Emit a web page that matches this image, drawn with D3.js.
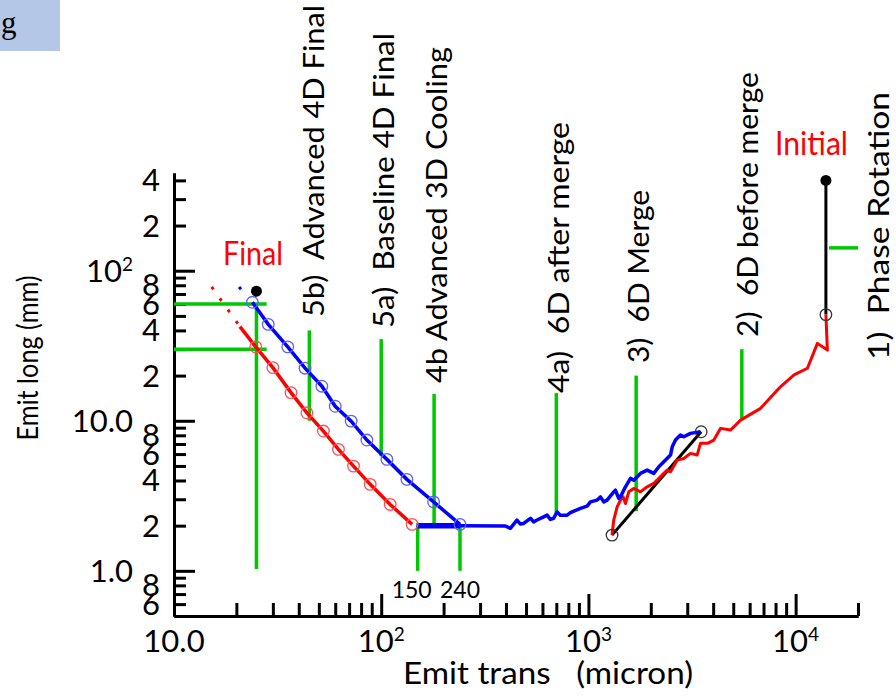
<!DOCTYPE html>
<html>
<head>
<meta charset="utf-8">
<script src="https://cdn.jsdelivr.net/npm/d3@7"></script>
<style>
body { margin: 0; background: #fff; }
text { font-family: Lato, "Open Sans", sans-serif; fill: #000; }
.pre { white-space: pre; }
</style>
</head>
<body>
<div id="chart-area"></div>
<script>
// Data
// ****
// Ticks
const xMajor = [10, 100, 1000, 10000]
const xMinor = [20, 30, 40, 50, 60, 70, 80, 90, 200, 300, 400, 500, 600, 700, 800, 900,
	2000, 3000, 4000, 5000, 6000, 7000, 8000, 9000, 20000]
const yMajor = [1, 10, 100]
const yMinor = [0.6, 0.7, 0.8, 0.9, 2, 3, 4, 5, 6, 7, 8, 9, 20, 30, 40, 50, 60, 70, 80, 90, 200, 300, 400]
const yMinorLabels = [0.6, 0.8, 2, 4, 6, 8, 20, 40, 60, 80, 200, 400]

// Cooling lattices (red / blue circles and lines)
const redCircles = [[24.8, 31.1], [30, 22.6], [36.7, 15.4], [43.8, 11.3], [52.6, 8.54], [62.2, 6.45],
	[73.5, 4.99], [88.5, 3.77], [110.5, 2.77], [141, 2.04]]
const blueCircles = [[23.9, 61.6], [28.5, 43.9], [35.4, 31.1], [42.9, 22.4], [51.7, 17.0], [60, 12.5],
	[71.6, 9.95], [85.3, 7.44], [106.5, 5.53], [133, 4.07], [179, 2.88], [240, 2.04]]
const redLead = [[20.8, 42.4], [24.8, 31.1]]
const redDotted = [[15.2, 78], [20.8, 42.4]]
const blueDotted = [[20.6, 78], [23.9, 61.6]]
const blueBar = [[148, 2.0], [240, 2.0]]

// Tracked emittance (wiggly)
const blueTail = [[240, 2.0], [397, 1.99], [420, 1.92], [452, 2.18], [470, 2.05], [487, 2.07], [525, 2.24],
	[544, 2.12], [565, 2.18], [608, 2.29], [632, 2.35], [655, 2.2], [680, 2.24], [706, 2.47], [732, 2.35],
	[789, 2.35], [819, 2.44], [915, 2.61], [985, 2.7], [1023, 2.88], [1102, 2.96], [1143, 3.11],
	[1186, 2.88], [1231, 2.96], [1325, 3.36], [1350, 3.45], [1400, 3.04], [1428, 3.11], [1509, 3.63],
	[1596, 4.13], [1655, 4.02], [1783, 4.46], [1921, 4.69], [2067, 4.46], [2187, 4.94], [2311, 5.33],
	[2490, 5.91], [2538, 6.71], [2632, 7.44], [2781, 8.03], [2885, 7.82], [3111, 8.24], [3475, 8.45]]
const redTail = [[1300, 1.73], [1325, 2.18], [1376, 2.67], [1428, 2.96], [1471, 3.11], [1509, 2.81],
	[1566, 3.36], [1655, 3.54], [1783, 3.36], [1921, 3.63], [2067, 3.83], [2187, 4.13], [2311, 4.46],
	[2399, 4.69], [2490, 4.57], [2683, 5.47], [2885, 5.61], [3111, 6.06], [3346, 5.91], [3475, 7.07],
	[3757, 7.07], [4030, 7.44], [4345, 8.9], [4853, 8.67], [5424, 10.1], [6776, 12.1], [8467, 16.9],
	[9830, 20.2], [11400, 22.4], [12740, 32.8], [14230, 29.6], [14000, 51]]

// Stage markers
const greenV = [[25, 1.03, 60], [45, 10, 40], [100, 5.8, 35], [180, 2.0, 15.1], [150, 1.0, 2.0],
	[240, 1.0, 2.0], [700, 2.42, 15.3], [1700, 2.5, 20], [5500, 10.4, 30]]
const greenH = [[60, 10, 28], [30, 10, 28], [142, 14500, 20000]]
const blackSegs = [[[14000, 51], [14000, 400]], [[1300, 1.73], [3500, 8.45]]]
const blackDots = [[25, 73], [14000, 400]]
const openDots = [[1300, 1.73], [3500, 8.45], [14000, 51]]

const stageNames = ["5b)  Advanced 4D Final", "5a)  Baseline 4D Final", "4b Advanced 3D Cooling",
	"4a)  6D after merge", "3)  6D Merge", "2)  6D before merge", "1)  Phase Rotation"]
const stageAt = [45, 100, 180, 700, 1700, 5500, 14000]

// Config
// ******
const width = 896, height = 699
const svg = d3.select("#chart-area").append("svg")
	.attr("width", width).attr("height", height)

const x = d3.scaleLog().domain([10, 20000]).range([174, 858])
const y = d3.scaleLog().domain([0.5, 448]).range([616, 173])
const line = d3.line().x(d => x(d[0])).y(d => y(d[1]))

// corner tag
svg.append("rect").attr("x", 0).attr("y", 0).attr("width", 60).attr("height", 51).attr("fill", "#b4c7e7")
svg.append("text").attr("x", 1).attr("y", 33).style("font-family", "'Liberation Serif', serif")
	.attr("font-size", 31).text("g")

// Axes
// ****
function styleAxis(sel) {
	sel.selectAll("text").remove()
	sel.selectAll("line, path").attr("stroke", "#000").attr("stroke-width", 3)
}
svg.append("g").attr("transform", "translate(0," + y(0.5) + ")")
	.call(d3.axisBottom(x).tickValues(xMinor).tickSize(-13).tickSizeOuter(0).tickFormat(""))
	.call(styleAxis)
svg.append("g").attr("transform", "translate(0," + y(0.5) + ")")
	.call(d3.axisBottom(x).tickValues(xMajor).tickSize(-22).tickSizeOuter(0).tickFormat(""))
	.call(styleAxis)
svg.append("g").attr("transform", "translate(" + x(10) + ",0)")
	.call(d3.axisLeft(y).tickValues(yMinor).tickSize(-12).tickSizeOuter(0).tickFormat(""))
	.call(styleAxis)
svg.append("g").attr("transform", "translate(" + x(10) + ",0)")
	.call(d3.axisLeft(y).tickValues(yMajor).tickSize(-21).tickSizeOuter(0).tickFormat(""))
	.call(styleAxis)

function powText(t, v) {
	const e = Math.round(Math.log10(v))
	if (e <= 1) { t.text(v.toFixed(1)); return }
	t.append("tspan").text("10")
	t.append("tspan").attr("dy", -11).attr("font-size", 19).text(e)
}

xMajor.forEach(v => {
	const t = svg.append("text").attr("x", x(v)).attr("y", 652)
		.attr("text-anchor", "middle").attr("font-size", 31)
	powText(t, v)
})
yMajor.forEach(v => {
	const t = svg.append("text").attr("x", 133).attr("y", y(v) + 11)
		.attr("text-anchor", "end").attr("font-size", 31)
	powText(t, v)
})
yMinorLabels.forEach(v => {
	svg.append("text").attr("x", 160).attr("y", y(v) + 11)
		.attr("text-anchor", "end").attr("font-size", 31)
		.text(String(v).replace("0.", "").replace(/0+$/, ""))
})

svg.append("text").attr("class", "pre").attr("x", 403).attr("y", 684).attr("font-size", 30)
	.attr("textLength", 290).attr("lengthAdjust", "spacingAndGlyphs")
	.text("Emit trans   (micron)")
svg.append("text").attr("transform", "translate(38,358) rotate(-90)").attr("text-anchor", "middle")
	.attr("font-size", 29).attr("textLength", 165).attr("lengthAdjust", "spacingAndGlyphs")
	.text("Emit long (mm)")

// Marks
// *****
const green = "#00c800"
greenV.forEach(d => {
	svg.append("line").attr("x1", x(d[0])).attr("x2", x(d[0])).attr("y1", y(d[1])).attr("y2", y(d[2]))
		.attr("stroke", green).attr("stroke-width", 3.5)
})
greenH.forEach(d => {
	svg.append("line").attr("x1", x(d[1])).attr("x2", x(d[2])).attr("y1", y(d[0])).attr("y2", y(d[0]))
		.attr("stroke", green).attr("stroke-width", 3.5)
})

blackSegs.forEach(s => {
	svg.append("path").attr("d", line(s)).attr("fill", "none").attr("stroke", "#000").attr("stroke-width", 3)
})

svg.append("path").attr("d", line(redTail)).attr("fill", "none").attr("stroke", "#ff0000")
	.attr("stroke-width", 3).attr("stroke-linejoin", "round")
svg.append("path").attr("d", line(blueTail)).attr("fill", "none").attr("stroke", "#0000ff")
	.attr("stroke-width", 3.5).attr("stroke-linejoin", "round")
svg.append("path").attr("d", line(blueBar)).attr("fill", "none").attr("stroke", "#0000ff")
	.attr("stroke-width", 5.5)

svg.append("path").attr("d", line(redDotted)).attr("fill", "none").attr("stroke", "#ff0000")
	.attr("stroke-width", 3).attr("stroke-dasharray", "3,11")
svg.append("path").attr("d", line(blueDotted)).attr("fill", "none").attr("stroke", "#0000ff")
	.attr("stroke-width", 3).attr("stroke-dasharray", "3,40")

svg.append("path").attr("d", line(redLead.concat(redCircles.slice(1)))).attr("fill", "none")
	.attr("stroke", "#ff0000").attr("stroke-width", 3.5)
svg.append("path").attr("d", line(blueCircles)).attr("fill", "none")
	.attr("stroke", "#0000ff").attr("stroke-width", 3.5)

svg.selectAll(".rc").data(redCircles).enter().append("circle")
	.attr("cx", d => x(d[0])).attr("cy", d => y(d[1])).attr("r", 5.8)
	.attr("fill", "none").attr("stroke", "#ff5050").attr("stroke-width", 1.3)
svg.selectAll(".bc").data(blueCircles).enter().append("circle")
	.attr("cx", d => x(d[0])).attr("cy", d => y(d[1])).attr("r", 5.8)
	.attr("fill", "none").attr("stroke", "#6060ff").attr("stroke-width", 1.3)
svg.selectAll(".od").data(openDots).enter().append("circle")
	.attr("cx", d => x(d[0])).attr("cy", d => y(d[1])).attr("r", 5.8)
	.attr("fill", "none").attr("stroke", "#333").attr("stroke-width", 1.3)
svg.selectAll(".bd").data(blackDots).enter().append("circle")
	.attr("cx", d => x(d[0])).attr("cy", d => y(d[1])).attr("r", 5.5).attr("fill", "#000")

// Labels
// ******
const stageLayout = [[15, 317, 312], [13, 328, 295], [13, 383, 336], [13, 393, 271],
	[13, 363, 173], [16, 337, 265], [63, 360, 268]]
stageNames.forEach((s, i) => {
	const [dx, by, len] = stageLayout[i]
	svg.append("text").attr("class", "pre")
		.attr("transform", "translate(" + (x(stageAt[i]) + dx) + "," + by + ") rotate(-90)")
		.attr("font-size", 29).attr("textLength", len).attr("lengthAdjust", "spacingAndGlyphs")
		.text(s)
})

svg.append("text").attr("x", 223).attr("y", 265).attr("font-size", 32).style("fill", "#ff0000")
	.attr("textLength", 60).attr("lengthAdjust", "spacingAndGlyphs").text("Final")
svg.append("text").attr("x", 775).attr("y", 155).attr("font-size", 32).style("fill", "#ff0000")
	.attr("textLength", 73).attr("lengthAdjust", "spacingAndGlyphs").text("Initial")
svg.append("text").attr("x", x(150) - 6).attr("y", 598).attr("text-anchor", "middle")
	.attr("font-size", 23).text("150")
svg.append("text").attr("x", x(240)).attr("y", 598).attr("text-anchor", "middle")
	.attr("font-size", 23).text("240")
</script>
</body>
</html>
